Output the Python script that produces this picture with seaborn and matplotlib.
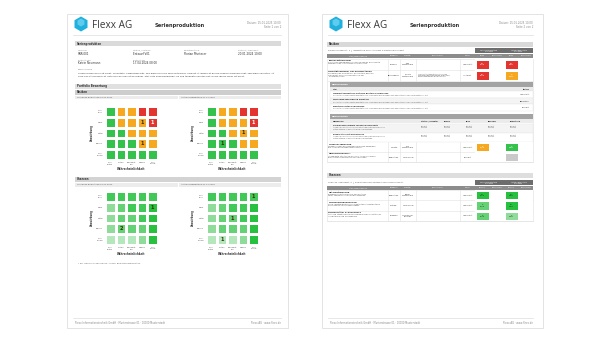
import numpy as np
import seaborn as sns
import matplotlib.pyplot as plt
from matplotlib.colors import ListedColormap
from matplotlib.patches import Rectangle, RegularPolygon

# ---- data ----
rows_auswirkung = ["Sehr\nhoch", "Hoch", "Mittel", "Gering", "Sehr\ngering"]
cols_wahrsch = ["Sehr\nselten", "Selten", "Gelegent-\nlich", "Häufig", "Sehr\nhäufig"]

# risk level per cell: 1 = niedrig, 2 = mittel, 3 = hoch
risk_levels = [[1, 2, 2, 3, 3],
               [1, 2, 2, 2, 3],
               [1, 1, 2, 2, 2],
               [1, 1, 1, 2, 2],
               [1, 1, 1, 1, 1]]
risk_prev_counts = [[0, 0, 0, 0, 0],
                    [0, 0, 0, 1, 1],
                    [0, 0, 0, 0, 0],
                    [0, 0, 0, 1, 0],
                    [0, 0, 0, 0, 0]]
risk_curr_counts = [[0, 0, 0, 0, 0],
                    [0, 0, 0, 0, 1],
                    [0, 0, 0, 1, 0],
                    [0, 1, 0, 0, 0],
                    [0, 0, 0, 0, 0]]

# chance intensity per cell (0 = schwach ... 4 = stark)
chance_levels = [[3, 3, 3, 3, 3],
                 [1, 2, 3, 3, 4],
                 [1, 2, 2, 3, 4],
                 [1, 2, 2, 2, 4],
                 [0, 0, 0, 1, 4]]
chance_prev_counts = [[0, 0, 0, 0, 0],
                      [0, 0, 0, 0, 1],
                      [0, 0, 0, 0, 0],
                      [0, 2, 0, 0, 0],
                      [0, 0, 0, 0, 0]]
chance_curr_counts = [[0, 0, 0, 0, 1],
                      [0, 0, 0, 0, 0],
                      [0, 0, 1, 0, 0],
                      [0, 0, 0, 0, 0],
                      [0, 1, 0, 0, 0]]

# risk table (page 2): 0 = keine Bewertung, 1 niedrig, 2 mittel, 3 hoch
risk_titles = ["Fachkräftemangel", "Qualitätsmängel bei Zulieferteilen"]
risk_prev = [3, 3]
risk_curr = [3, 2]
risk_scores_prev = ["16", "20"]
risk_scores_curr = ["16", "9"]
risk2_titles = ["Lieferverzögerung", "Maschinenausfall"]
risk2_prev = [2, np.nan]
risk2_curr = [1, 0]
risk2_scores_prev = ["8", ""]
risk2_scores_curr = ["4", ""]
chance_titles = ["Automatisierung", "Neukundengewinnung", "Fördermittel & Zuschüsse"]
chance_prev = [4, 2, 2]
chance_curr = [4, 4, 1]
chance_scores_prev = ["15", "6", "6"]
chance_scores_curr = ["15", "12", "4"]

GREEN, ORANGE, RED, GREYCELL = "#34c24c", "#f5a820", "#e3342f", "#c9c9c9"
risk_cmap = ListedColormap([GREYCELL, GREEN, ORANGE, RED])
green_cmap = ListedColormap(["#b4e7bb", "#8fdc9a", "#63d174", "#40c956", "#27c13f"])

W, H = 608, 342
fig = plt.figure(figsize=(6.08, 3.42), dpi=100)
bg = fig.add_axes([0, 0, 1, 1])
bg.set_xlim(0, W)
bg.set_ylim(H, 0)
bg.axis("off")


def box(x, y, w, h, fc, ec="none", lw=0.4, z=1):
    bg.add_patch(Rectangle((x, y), w, h, fc=fc, ec=ec, lw=lw, zorder=z))


def txt(x, y, s, size=1.8, color="#333", va="center", **kw):
    bg.text(x, y, s, fontsize=size, color=color, va=va, zorder=5, **kw)


def sub_ax(x0, y0, x1, y1):
    return fig.add_axes([x0 / W, 1 - y1 / H, (x1 - x0) / W, (y1 - y0) / H])


def header(px, right, page):
    box(px + 0.8, 14.8, 221, 314, "#f1f1f1")
    box(px, 14, 221, 314, "white", ec="#e3e3e3", lw=0.7)
    bg.add_patch(RegularPolygon((px + 14, 24), 6, radius=7.5, fc="#1fb0de", zorder=3))
    bg.add_patch(RegularPolygon((px + 14, 22.5), 6, radius=4, fc="#5fcbed", zorder=4))
    bg.text(px + 25, 25, "Flexx AG", fontsize=7.2, family="Open Sans", color="#3a3a3a",
            va="center", zorder=5)
    txt(px + 88, 26, "Serienproduktion", size=3.7, color="#333", fontweight="bold")
    txt(right, 23.5, "Datum: 15.01.2025 10:00", size=1.9, color="#888", ha="right")
    txt(right, 27, "Seite %d von 2" % page, size=1.9, color="#888", ha="right")
    bg.plot([px + 6, right], [35, 35], color="#dddddd", lw=0.5)
    bg.plot([px + 6, right], [318, 318], color="#dddddd", lw=0.5)
    txt(px + 8, 323, "Flexx Informationstechnik GmbH · Musterstrasse 01 · 00000 Musterstadt",
        size=1.8, color="#888")
    txt(right, 323, "Flexx AG · www.flexx.de", size=1.8, color="#888", ha="right")


def matrix(x0, y0, levels, counts, cmap, vmin, vmax, dark_text_from):
    ax = sub_ax(x0, y0, x0 + 53, y0 + 54)
    annot = np.array([[str(c) if c else "" for c in r] for r in counts])
    sns.heatmap(np.array(levels), ax=ax, cmap=cmap, vmin=vmin, vmax=vmax, cbar=False,
                linewidths=1.8, linecolor="white", annot=annot, fmt="",
                annot_kws={"fontsize": 3.6, "fontweight": "bold"},
                xticklabels=cols_wahrsch, yticklabels=rows_auswirkung)
    flat = np.array(levels).flatten()
    for t, v in zip(ax.texts, flat):
        t.set_color("#3a2a00" if v < dark_text_from else "white")
    ax.tick_params(length=0, labelsize=1.45, pad=1.5, colors="#555")
    plt.setp(ax.get_yticklabels(), rotation=0)
    plt.setp(ax.get_xticklabels(), rotation=0)
    ax.set_ylabel("Auswirkung", fontsize=1.8, fontweight="bold", labelpad=1.8, color="#333")
    ax.set_xlabel("Wahrscheinlichkeit", fontsize=1.9, fontweight="bold", labelpad=1.6,
                  color="#333")


def cells(y0, y1, prev, curr, sp, sc, cmap, vmin, vmax, txtcol):
    ax = sub_ax(475, y0, 533, y1)
    data = np.array([[p, np.nan, c, np.nan] for p, c in zip(prev, curr)], dtype=float)
    annot = np.array([[a + ("\nhoch" if a else ""), "", b + ("\nwert" if b else ""), ""]
                      for a, b in zip(sp, sc)])
    sns.heatmap(data, ax=ax, mask=np.isnan(data), cmap=cmap, vmin=vmin, vmax=vmax,
                cbar=False, linewidths=0.8, linecolor="white", annot=annot, fmt="",
                annot_kws={"fontsize": 1.5, "linespacing": 1.1},
                xticklabels=False, yticklabels=False)
    for t in ax.texts:
        t.set_color(txtcol)
    n = len(prev)
    rh = (y1 - y0) / n
    for i in range(n):
        yc = y0 + rh * (i + 0.5)
        txt(497, yc, "Weitere\nerforderlich", size=1.4, ha="center", linespacing=1.1)
        txt(526, yc, "Weitere\nerforderlich", size=1.4, ha="center", linespacing=1.1)
        if np.isnan(prev[i]):
            txt(482, yc, "–", size=1.6, ha="center")
        bg.plot([327, 533], [y0 + rh * (i + 1)] * 2, color="#e2e2e2", lw=0.4)


# ================= page 1 =================
header(67, 281, 1)
box(75, 41, 206, 5, "#dadada")
txt(77, 43.5, "Serienprodukton", size=1.9, fontweight="bold")
fields = [(78, 50.5, "Nummer", "SNR-001"), (133, 50.5, "Status / Version", "Entwurf V01"),
          (184, 50.5, "Verantwortlich", "Florian Musterer"),
          (238, 50.5, "Erstellt / Geändert", "20.01.2024 10:00"),
          (78, 60, "Erstellt von", "Katrin Neumann"), (133, 60, "Erstellt am", "17.04.2024 08:00")]
for fx, fy, lab, val in fields:
    txt(fx, fy, lab, size=1.6, color="#888")
    txt(fx, fy + 3.2, val, size=2.0, color="#333")
txt(78, 69.5, "Beschreibung", size=1.6, color="#888")
txt(78, 73, "Lorem ipsum dolor sit amet, consetetur sadipscing elitr, sed diam nonumy eirmod tempor "
    "invidunt ut labore et dolore magna aliquyam erat, sed diam voluptua. At", size=1.75)
txt(78, 76.5, "vero eos et accusam et justo duo dolores et ea rebum. Stet clita kasd gubergren, "
    "no sea takimata sanctus est Lorem ipsum dolor sit amet.", size=1.75)

box(75, 84, 206, 5, "#e0e0e0")
txt(77, 86.5, "Portfolio Bewertung", size=1.9, fontweight="bold")
box(75, 90, 206, 4.5, "#cdcdcd")
txt(77, 92.2, "Risiken", size=1.9, fontweight="bold")
box(75, 95.5, 102.5, 3.6, "#ececec")
box(179, 95.5, 102, 3.6, "#ececec")
txt(77, 97.3, "Vorherige Bewertung 01.01.2024", size=1.5, color="#555")
txt(181, 97.3, "Aktuelle Bewertung 01.01.2025", size=1.5, color="#555")
matrix(105, 106, risk_levels, risk_prev_counts, risk_cmap, -0.5, 3.5, 3)
matrix(206, 106, risk_levels, risk_curr_counts, risk_cmap, -0.5, 3.5, 3)

box(75, 177, 206, 5, "#d3d3d3")
txt(77, 179.5, "Chancen", size=1.9, fontweight="bold")
box(75, 183, 102.5, 3.6, "#ececec")
box(179, 183, 102, 3.6, "#ececec")
txt(77, 184.8, "Vorherige Bewertung 01.01.2024", size=1.5, color="#555")
txt(181, 184.8, "Aktuelle Bewertung 01.01.2025", size=1.5, color="#555")
matrix(105, 191, chance_levels, chance_prev_counts, green_cmap, -0.5, 4.5, 99)
matrix(206, 191, chance_levels, chance_curr_counts, green_cmap, -0.5, 4.5, 99)
txt(78, 263, "* Erl. Zahlen in den Zellen: Anzahl Bewertungseinheiten", size=1.6, color="#666")

# ================= page 2 =================
header(322, 533, 2)
cols_x = [327, 388, 400, 416, 460, 475, 490, 504, 519, 533]
head_names = ["Titel / Beschreibung", "Kategorie", "Verantw.", "Massnahmen", "Status",
              "Risiko", "Massnahme", "Risiko", "Massnahme"]


def table_head(ybar, title, note, ygrp):
    box(327, ybar, 206, 4.6, "#d9d9d9")
    txt(329, ybar + 2.3, title, size=1.9, fontweight="bold")
    txt(328, ygrp + 2.5, note, size=1.5, color="#555")
    box(475, ygrp, 28.5, 5, "#6d6d6d")
    box(504, ygrp, 29, 5, "#6d6d6d")
    txt(489, ygrp + 2.5, "Vorherige Bewertung\n01.01.2024", size=1.2, color="white",
        ha="center", linespacing=1.0)
    txt(518.5, ygrp + 2.5, "Aktuelle Bewertung\n01.01.2025", size=1.2, color="white",
        ha="center", linespacing=1.0)
    box(327, ygrp + 5.5, 206, 4.5, "#8c8c8c")
    for a, b, n in zip(cols_x[:-1], cols_x[1:], head_names):
        txt((a + b) / 2, ygrp + 7.7, n, size=1.3, color="white", ha="center")


def row_text(y0, y1, title, desc, kat, ver, mass, status):
    yc = (y0 + y1) / 2
    txt(328.5, y0 + 2, title, size=1.6, fontweight="bold")
    txt(328.5, y0 + 3.3, desc, size=1.35, color="#555", va="top", linespacing=1.15)
    txt(394, yc, kat, size=1.4, ha="center")
    txt(408, yc, ver, size=1.4, ha="center", linespacing=1.1)
    txt(418, yc, mass, size=1.35, color="#555", linespacing=1.15)
    txt(467.5, yc, status, size=1.4, ha="center")
    for x in cols_x[1:5]:
        bg.plot([x, x], [y0, y1], color="#e2e2e2", lw=0.4)


table_head(42, "Risiken", "Risiken insgesamt: 2  |  Bewertung nach Ausmass x Wahrscheinlichkeit", 48)
row_text(58.5, 69.75, risk_titles[0],
         "Durch den demografischen Wandel fehlen qualifizierte\nMitarbeitende in Fertigung und Montage.",
         "Personal", "Max\nMustermann", "", "Umgesetzt")
row_text(69.75, 81, risk_titles[1],
         "Schwankende Qualität der Zulieferteile führt zu\nNacharbeit und Verzögerungen in der\nSerienproduktion.",
         "Beschaffung", "Sandra\nMustermann",
         "Lieferantenaudits durchführen\nWareneingangsprüfung erweitern\nZweitlieferanten qualifizieren",
         "In Arbeit")
cells(58.5, 81, risk_prev, risk_curr, risk_scores_prev, risk_scores_curr, risk_cmap, -0.5, 3.5,
      "white")

# Massnahmen sub-table
box(330, 82, 203, 4.5, "#a3a3a3")
txt(332, 84.2, "Massnahmen", size=1.6, color="white", fontweight="bold")
box(330, 87, 203, 3.8, "#ebebeb")
txt(333, 88.9, "Titel", size=1.4, fontweight="bold")
txt(530, 88.9, "Status", size=1.4, fontweight="bold", ha="right")
mass_items = [("Lieferantenaudits für kritische Bauteile durchführen", "Umgesetzt"),
              ("Wareneingangsprüfung erweitern", "Begonnen"),
              ("Zweitlieferanten qualifizieren", "Geplant")]
for i, (t, s) in enumerate(mass_items):
    y = 91 + i * 6.7
    box(330, y, 203, 6.7, "#f4f4f4" if i == 1 else "white", ec="#e6e6e6", lw=0.3)
    txt(333, y + 2, t, size=1.4, fontweight="bold")
    txt(333, y + 4.3, "Sicherstellung der Bauteilqualität durch regelmässige Prüfungen "
        "und Bewertungen der Lieferanten vor Ort.", size=1.25, color="#666")
    txt(530, y + 3.3, s, size=1.4, ha="right")

box(330, 114, 203, 4.5, "#a3a3a3")
txt(332, 116.2, "Massnahmen", size=1.6, color="white", fontweight="bold")
box(330, 119, 203, 4, "#ebebeb")
for x, n in zip([333, 421, 444, 466, 488, 510],
                ["Massnahme", "Status / Verantw.", "Beginn", "Ende", "Ergebnis", "Bewertung"]):
    txt(x, 121, n, size=1.3, fontweight="bold")
for i in range(2):
    y = 123.5 + i * 9
    box(330, y, 203, 9, "#f4f4f4" if i == 0 else "white", ec="#e6e6e6", lw=0.3)
    txt(333, y + 2, ["Schulungsprogramm für Nachwuchskräfte", "Kooperation mit Hochschulen"][i],
        size=1.4, fontweight="bold")
    txt(333, y + 3.4, "Aufbau eines internen Qualifizierungsprogramms für neue\nMitarbeitende "
        "in der Fertigung und Montage.", size=1.25, color="#666", va="top")
    for x in [421, 444, 466, 488, 510]:
        txt(x, y + 3.5, "Geplant\nMax M.", size=1.25, color="#555", linespacing=1.15)

row_text(142, 152, risk2_titles[0],
         "Verzögerungen bei Rohstofflieferungen gefährden\ndie Termintreue gegenüber Kunden.",
         "Logistik", "Lars\nMustermann", "", "Umgesetzt")
row_text(152, 162, risk2_titles[1],
         "Ungeplante Stillstände einzelner Anlagen können\ndie Produktionsplanung beeinträchtigen.",
         "Produktion", "Lars Meyer", "", "Geplant")
cells(142, 162, risk2_prev, risk2_curr, risk2_scores_prev, risk2_scores_curr, risk_cmap, -0.5,
      3.5, "white")
box(327, 58.5, 206, 103.5, "none", ec="#e0e0e0", lw=0.4)

# Chancen table
box(327, 173, 206, 5, "#dedede")
txt(329, 175.5, "Chancen", size=1.9, fontweight="bold")
txt(328, 183, "Chancen insgesamt: 3  |  Bewertung nach Nutzen x Wahrscheinlichkeit", size=1.5,
    color="#555")
box(475, 180, 28.5, 5, "#6d6d6d")
box(504, 180, 29, 5, "#6d6d6d")
txt(489, 182.5, "Vorherige Bewertung\n01.01.2024", size=1.2, color="white", ha="center",
    linespacing=1.0)
txt(518.5, 182.5, "Aktuelle Bewertung\n01.01.2025", size=1.2, color="white", ha="center",
    linespacing=1.0)
box(327, 185.5, 206, 4.5, "#8c8c8c")
for a, b, n in zip(cols_x[:-1], cols_x[1:], head_names):
    txt((a + b) / 2, 187.7, n.replace("Risiko", "Chance"), size=1.3, color="white", ha="center")
chance_rows = [("Prozessautomatisierung in der Montage\nsenkt Taktzeiten und Fertigungskosten.",
                "Produktion", "Lukas\nMustermann"),
               ("Neue Absatzmärkte durch erweitertes Produktportfolio\nund gezielte Vertriebsaktivitäten.",
                "Vertrieb", "Lars Meyer"),
               ("Nutzung staatlicher Förderprogramme für Investitionen\nin Digitalisierung und Effizienz.",
                "Finanzen", "Lisa Müller-\nSchmidt")]
for i, (d, k, v) in enumerate(chance_rows):
    y0 = 190 + i * 31 / 3
    row_text(y0, y0 + 31 / 3, chance_titles[i], d, k, v, "", "Umgesetzt")
cells(190, 221, chance_prev, chance_curr, chance_scores_prev, chance_scores_curr, green_cmap,
      -0.5, 4.5, "#1d3a20")
box(327, 190, 206, 31, "none", ec="#e0e0e0", lw=0.4)

plt.savefig("out.png", dpi=100)
